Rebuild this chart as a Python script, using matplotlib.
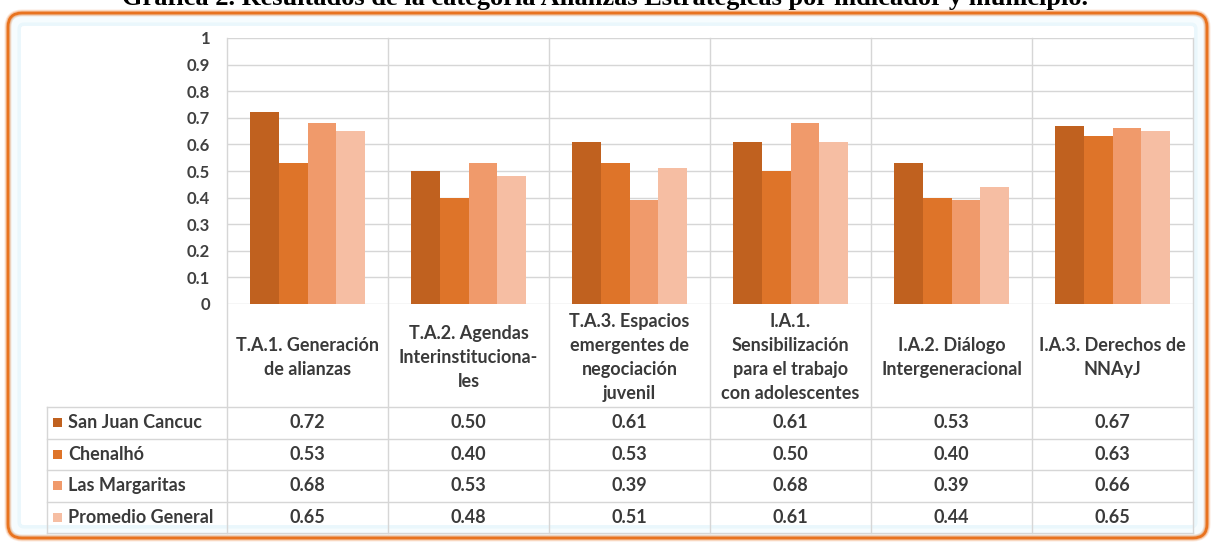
import matplotlib
matplotlib.use("Agg")
import matplotlib.pyplot as plt
import matplotlib.transforms as mtransforms
from matplotlib.patches import FancyBboxPatch, Rectangle
from matplotlib.lines import Line2D
import numpy as np

# ---- data ----
categories = [
    "T.A.1. Generación\nde alianzas",
    "T.A.2. Agendas\nInterinstituciona-\nles",
    "T.A.3. Espacios\nemergentes de\nnegociación\njuvenil",
    "I.A.1.\nSensibilización\npara el trabajo\ncon adolescentes",
    "I.A.2. Diálogo\nIntergeneracional",
    "I.A.3. Derechos de\nNNAyJ",
]
series_names = ["San Juan Cancuc", "Chenalhó", "Las Margaritas", "Promedio General"]
san_juan_cancuc = [0.72, 0.50, 0.61, 0.61, 0.53, 0.67]
chenalho = [0.53, 0.40, 0.53, 0.50, 0.40, 0.63]
las_margaritas = [0.68, 0.53, 0.39, 0.68, 0.39, 0.66]
promedio_general = [0.65, 0.48, 0.51, 0.61, 0.44, 0.65]
y_ticks = [0, 0.1, 0.2, 0.3, 0.4, 0.5, 0.6, 0.7, 0.8, 0.9, 1]
y_tick_labels = ["0", "0.1", "0.2", "0.3", "0.4", "0.5", "0.6", "0.7", "0.8", "0.9", "1"]
title = "Gráfica 2. Resultados de la categoría Alianzas Estratégicas por indicador y municipio."

series = [san_juan_cancuc, chenalho, las_margaritas, promedio_general]
colors = ["#C0611F", "#DE7429", "#F09A6B", "#F6BEA3"]

W, H = 1211, 542
fig = plt.figure(figsize=(W / 100, H / 100), dpi=100)
fig.patch.set_facecolor("white")

# pixel coordinates measured from the top-left corner
px = mtransforms.Affine2D().scale(1 / W, -1 / H).translate(0, 1) + fig.transFigure

# rounded frame with a soft inner glow
fx, fy, fw, fh = 8, 13, W - 12, H - 17
for lw, col in [(10, "#EAF7FC"), (5, "#F6FCFE")]:
    fig.patches.append(FancyBboxPatch((fx + 6, fy + 6), fw - 12, fh - 12,
                                      boxstyle="round,pad=0,rounding_size=10",
                                      transform=px, fill=False, ec=col, lw=lw))
for lw, a in [(5, 0.18), (3.5, 0.35)]:
    fig.patches.append(FancyBboxPatch((fx, fy), fw, fh,
                                      boxstyle="round,pad=0,rounding_size=14",
                                      transform=px, fill=False, ec="#ED7D31", lw=lw, alpha=a))
fig.patches.append(FancyBboxPatch((fx, fy), fw, fh,
                                  boxstyle="round,pad=0,rounding_size=14",
                                  transform=px, fill=False, ec="#E8731F", lw=2.0))

fig.text(605, 5, title, transform=px, ha="center", va="baseline",
         fontsize=19, fontweight="bold", family="Liberation Serif", color="black")

# plot area
left, right, top, bottom = 227, 1193, 38, 304
ax = fig.add_axes([left / W, 1 - bottom / H, (right - left) / W, (bottom - top) / H])
ax.set_xlim(-0.5, len(categories) - 0.5)
ax.set_ylim(0, 1)
for s in ax.spines.values():
    s.set_visible(False)

grid_col = "#D6D6D6"
for t in y_ticks:
    ax.axhline(t, color=grid_col, lw=1.0, zorder=0)

x = np.arange(len(categories))
bw = 0.18
offsets = (np.arange(len(series)) - 1.5) * bw
for vals, off, c, name in zip(series, offsets, colors, series_names):
    ax.bar(x + off, vals, width=bw, color=c, label=name, zorder=2, linewidth=0)

ax.set_yticks(y_ticks)
ax.set_yticklabels(y_tick_labels)
ax.tick_params(axis="y", length=0, pad=12, labelsize=12, labelcolor="#404040")
for lab in ax.get_yticklabels():
    lab.set_fontweight("bold")
    lab.set_family("Lato")
ax.set_xticks([])

# ---- data table under the chart ----
xt = mtransforms.blended_transform_factory(ax.transData, px)
table_bottom = 533
header_bottom = 407
n_rows = len(series)
row_h = (table_bottom - header_bottom) / n_rows
legend_left = 47

line_kw = dict(color=grid_col, lw=1.0, transform=px)
# vertical separators (through chart and table)
for b in np.arange(len(categories) + 1) - 0.5:
    xp = ax.transData.transform((b, 0))[0]
    fig.add_artist(Line2D([xp, xp], [top, table_bottom], **line_kw))
fig.add_artist(Line2D([legend_left, legend_left], [header_bottom, table_bottom], **line_kw))
for i in range(n_rows + 1):
    yy = header_bottom + i * row_h
    fig.add_artist(Line2D([legend_left, right], [yy, yy], **line_kw))

txt_kw = dict(color="#3A3A3A", family="Lato", fontweight="bold")
for i, cat in enumerate(categories):
    fig.text(i, (bottom + header_bottom) / 2 + 2, cat, transform=xt, ha="center",
             va="center", ma="center", fontsize=13, linespacing=1.5, **txt_kw)

for r, (name, vals, c) in enumerate(zip(series_names, series, colors)):
    yc = header_bottom + (r + 0.5) * row_h
    fig.patches.append(Rectangle((53, yc - 4.5), 9, 9, transform=px, fc=c, ec="none"))
    fig.text(68, yc, name, transform=px, ha="left", va="center", fontsize=13, **txt_kw)
    for i, v in enumerate(vals):
        fig.text(i, yc, f"{v:.2f}", transform=xt, ha="center", va="center",
                 fontsize=13, **txt_kw)

fig.savefig("out.png", dpi=100)
